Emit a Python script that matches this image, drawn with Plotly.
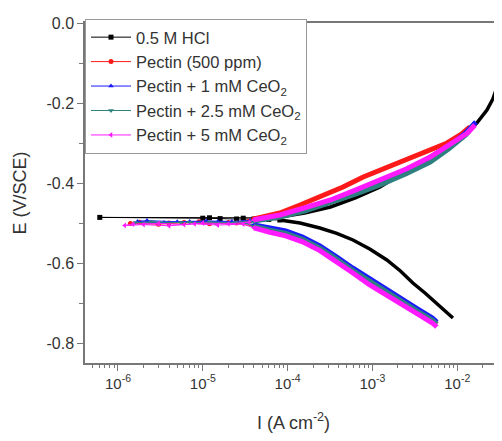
import plotly.graph_objects as go

# ---------------- data (I in A cm^-2, E in V/SCE) ----------------
names = ["0.5 M HCl", "Pectin (500 ppm)", "Pectin + 1 mM CeO<sub>2</sub>",
         "Pectin + 2.5 mM CeO<sub>2</sub>", "Pectin + 5 mM CeO<sub>2</sub>"]
colors = ["#000000", "#ff1a1a", "#1a1aff", "#2e8080", "#ff1aff"]
symbols = ["square", "circle", "triangle-up", "triangle-down", "triangle-left"]

# 0.5 M HCl
hcl_cath_I = [8.9e-3, 7.2e-3, 5.75e-3, 4.17e-3, 3.0e-3, 2.14e-3, 1.48e-3, 9.3e-4, 5.9e-4, 3.8e-4, 2.4e-4, 1.4e-4, 8.1e-5]
hcl_cath_E = [-0.7375, -0.72, -0.70, -0.675, -0.65, -0.62, -0.5925, -0.565, -0.5425, -0.526, -0.5125, -0.50, -0.4925]
hcl_ecorr_I = [8.1e-5, 6.0e-5, 4.0e-5, 2.5e-5, 1.6e-5, 1.0e-5, 6.1e-7, 1.2e-5, 3.0e-5, 5.5e-5, 8.1e-5]
hcl_ecorr_E = [-0.4925, -0.491, -0.490, -0.490, -0.489, -0.488, -0.486, -0.487, -0.488, -0.487, -0.485]
hcl_anod_I = [8.1e-5, 1.58e-4, 3.2e-4, 6.3e-4, 1.23e-3, 2.14e-3, 3.6e-3, 5.6e-3, 8.9e-3, 1.26e-2, 1.7e-2,
              2.24e-2, 2.63e-2, 2.95e-2, 3.09e-2, 3.16e-2, 3.24e-2, 3.31e-2]
hcl_anod_E = [-0.485, -0.475, -0.46, -0.437, -0.41, -0.38, -0.35, -0.325, -0.30, -0.275, -0.25,
              -0.2175, -0.19, -0.16, -0.12, -0.075, -0.03, 0.0]

# Pectin (500 ppm)
pec_cath_I = [5.75e-3, 5.1e-3, 3.4e-3, 2.3e-3, 1.45e-3, 9.3e-4, 5.9e-4, 3.8e-4, 2.4e-4, 1.5e-4, 9.5e-5, 6.2e-5, 4.0e-5]
pec_cath_E = [-0.753, -0.743, -0.721, -0.698, -0.673, -0.648, -0.619, -0.591, -0.563, -0.541, -0.526, -0.518, -0.508]
pec_ecorr_I = [4.0e-5, 2.5e-5, 1.2e-5, 6e-6, 3e-6, 1.4e-6, 1.8e-6, 4e-6, 9e-6, 2e-5, 3.5e-5, 4.0e-5]
pec_ecorr_E = [-0.508, -0.500, -0.502, -0.499, -0.503, -0.501, -0.498, -0.500, -0.497, -0.499, -0.495, -0.490]
pec_anod_I = [4.0e-5, 8.1e-5, 1.4e-4, 2.4e-4, 4.5e-4, 7.8e-4, 1.6e-3, 3.0e-3, 5.0e-3, 7.6e-3, 1.12e-2, 1.41e-2]
pec_anod_E = [-0.490, -0.475, -0.455, -0.435, -0.41, -0.385, -0.358, -0.335, -0.318, -0.30, -0.278, -0.26]

# Pectin + 1 mM CeO2
ce1_cath_I = [5.75e-3, 5.1e-3, 3.4e-3, 2.3e-3, 1.45e-3, 9.3e-4, 5.9e-4, 3.8e-4, 2.4e-4, 1.5e-4, 9.5e-5, 6.2e-5, 4.0e-5]
ce1_cath_E = [-0.7475, -0.7375, -0.715, -0.6925, -0.667, -0.6425, -0.613, -0.585, -0.557, -0.535, -0.52, -0.5125, -0.505]
ce1_ecorr_I = [4.0e-5, 3e-5, 1.5e-5, 7e-6, 3.5e-6, 1.7e-6, 2.2e-6, 5e-6, 1.1e-5, 2.2e-5, 3.6e-5, 4.0e-5]
ce1_ecorr_E = [-0.505, -0.498, -0.497, -0.496, -0.499, -0.496, -0.494, -0.497, -0.495, -0.496, -0.494, -0.494]
ce1_anod_I = [4.0e-5, 8.1e-5, 1.58e-4, 3.2e-4, 6.3e-4, 1.23e-3, 2.5e-3, 4.8e-3, 7.9e-3, 1.26e-2, 1.66e-2]
ce1_anod_E = [-0.494, -0.483, -0.466, -0.447, -0.424, -0.40, -0.372, -0.342, -0.31, -0.275, -0.2475]

# Pectin + 2.5 mM CeO2
ce25_cath_I = [5.75e-3, 5.1e-3, 3.4e-3, 2.3e-3, 1.45e-3, 9.3e-4, 5.9e-4, 3.8e-4, 2.4e-4, 1.5e-4, 9.5e-5, 6.2e-5, 4.0e-5]
ce25_cath_E = [-0.753, -0.743, -0.721, -0.698, -0.673, -0.648, -0.619, -0.591, -0.563, -0.541, -0.526, -0.518, -0.508]
ce25_ecorr_I = [4.0e-5, 3e-5, 1.4e-5, 7e-6, 3e-6, 1.6e-6, 2.5e-6, 5.5e-6, 1.2e-5, 2.4e-5, 3.8e-5, 4.0e-5]
ce25_ecorr_E = [-0.508, -0.499, -0.500, -0.498, -0.500, -0.499, -0.497, -0.499, -0.498, -0.499, -0.496, -0.495]
ce25_anod_I = [4.0e-5, 8.1e-5, 1.58e-4, 3.2e-4, 6.3e-4, 1.23e-3, 2.5e-3, 4.8e-3, 7.9e-3, 1.26e-2, 1.58e-2]
ce25_anod_E = [-0.495, -0.485, -0.47, -0.45, -0.428, -0.405, -0.377, -0.3475, -0.315, -0.28, -0.255]

# Pectin + 5 mM CeO2
ce5_cath_I = [5.75e-3, 5.1e-3, 3.4e-3, 2.3e-3, 1.45e-3, 9.3e-4, 5.9e-4, 3.8e-4, 2.4e-4, 1.5e-4, 9.5e-5, 6.2e-5, 4.0e-5]
ce5_cath_E = [-0.76, -0.75, -0.727, -0.705, -0.679, -0.655, -0.625, -0.597, -0.569, -0.547, -0.532, -0.523, -0.512]
ce5_ecorr_I = [4.0e-5, 3.0e-5, 1.5e-5, 8e-6, 4e-6, 2e-6, 1.2e-6, 1.5e-6, 3e-6, 6e-6, 1.0e-5, 2e-5, 3.5e-5, 4.0e-5]
ce5_ecorr_E = [-0.512, -0.503, -0.505, -0.502, -0.507, -0.504, -0.506, -0.503, -0.501, -0.504, -0.500, -0.502, -0.498, -0.492]
ce5_anod_I = [4.0e-5, 8.1e-5, 1.58e-4, 3.2e-4, 6.3e-4, 1.23e-3, 2.5e-3, 4.8e-3, 7.9e-3, 1.32e-2, 1.62e-2]
ce5_anod_E = [-0.492, -0.48, -0.462, -0.4425, -0.418, -0.3925, -0.365, -0.335, -0.305, -0.275, -0.255]

x_tick_vals = [1e-6, 1e-5, 1e-4, 1e-3, 1e-2]
x_tick_text = ["10<sup>-6</sup>", "10<sup>-5</sup>", "10<sup>-4</sup>", "10<sup>-3</sup>", "10<sup>-2</sup>"]
y_tick_vals = [0.0, -0.2, -0.4, -0.6, -0.8]
y_tick_text = ["0.0", "-0.2", "-0.4", "-0.6", "-0.8"]

series = [
    (hcl_cath_I, hcl_cath_E, hcl_ecorr_I, hcl_ecorr_E, hcl_anod_I, hcl_anod_E, 3.5),
    (pec_cath_I, pec_cath_E, pec_ecorr_I, pec_ecorr_E, pec_anod_I, pec_anod_E, 5),
    (ce1_cath_I, ce1_cath_E, ce1_ecorr_I, ce1_ecorr_E, ce1_anod_I, ce1_anod_E, 5),
    (ce25_cath_I, ce25_cath_E, ce25_ecorr_I, ce25_ecorr_E, ce25_anod_I, ce25_anod_E, 5),
    (ce5_cath_I, ce5_cath_E, ce5_ecorr_I, ce5_ecorr_E, ce5_anod_I, ce5_anod_E, 5),
]

fig = go.Figure()
for i, (cI, cE, eI, eE, aI, aE, w) in enumerate(series):
    col = colors[i]
    fig.add_trace(go.Scatter(x=cI, y=cE, mode="lines", line=dict(color=col, width=w),
                             showlegend=False, hoverinfo="skip"))
    fig.add_trace(go.Scatter(x=aI, y=aE, mode="lines", line=dict(color=col, width=w),
                             showlegend=False, hoverinfo="skip"))
    fig.add_trace(go.Scatter(x=eI, y=eE, mode="lines+markers",
                             line=dict(color=col, width=1),
                             marker=dict(color=col, size=5, symbol=symbols[i]),
                             showlegend=False, hoverinfo="skip"))

for i in range(5):
    fig.add_trace(go.Scatter(x=[None], y=[None], mode="lines+markers", name=names[i],
                             line=dict(color=colors[i], width=1),
                             marker=dict(color=colors[i], size=5, symbol=symbols[i])))

minor_x = [m * 10.0 ** e for e in range(-7, -1) for m in range(2, 10)]

axis_col = "#777777"
# the page body has an 8px margin: draw the figure 8px up/left and keep it inside the window
fig.update_layout(
    width=494, height=425,
    margin=dict(l=77, r=0, t=15, b=70, autoexpand=False),
    paper_bgcolor="white", plot_bgcolor="white",
    font=dict(family="Liberation Sans, Arial, sans-serif", color="#333333"),
    showlegend=True,
    legend=dict(x=0.0, y=1.012, xanchor="left", yanchor="top",
                bgcolor="white", bordercolor="#999999", borderwidth=1,
                font=dict(size=16.5, color="#333333"), tracegroupgap=0,
                itemwidth=40),
    xaxis=dict(type="log", range=[-6.389, -1.472],
               tickvals=x_tick_vals, ticktext=x_tick_text,
               ticks="outside", ticklen=6, tickcolor=axis_col, tickwidth=1.2,
               minor=dict(tickvals=minor_x, ticks="outside", ticklen=3, tickcolor=axis_col, showgrid=False),
               showline=True, linecolor=axis_col, linewidth=1.5, mirror=True,
               showgrid=False, zeroline=False, automargin=False,
               tickfont=dict(size=15, color="#333333"),
               title=dict(text="I (A cm<sup>-2</sup>)", font=dict(size=18, color="#333333"), standoff=28)),
    yaxis=dict(range=[-0.85, 0.0],
               tickvals=y_tick_vals, ticktext=y_tick_text,
               ticks="outside", ticklen=6, tickcolor=axis_col, tickwidth=1.2,
               minor=dict(dtick=0.1, tick0=0, ticks="outside", ticklen=4, tickcolor=axis_col, showgrid=False),
               showline=True, linecolor=axis_col, linewidth=1.5,
               showgrid=False, zeroline=False, automargin=False,
               tickfont=dict(size=16, color="#333333"),
               title=dict(text="E (V/SCE)", font=dict(size=18, color="#333333"), standoff=15)),
)

fig.write_html("out.html")
